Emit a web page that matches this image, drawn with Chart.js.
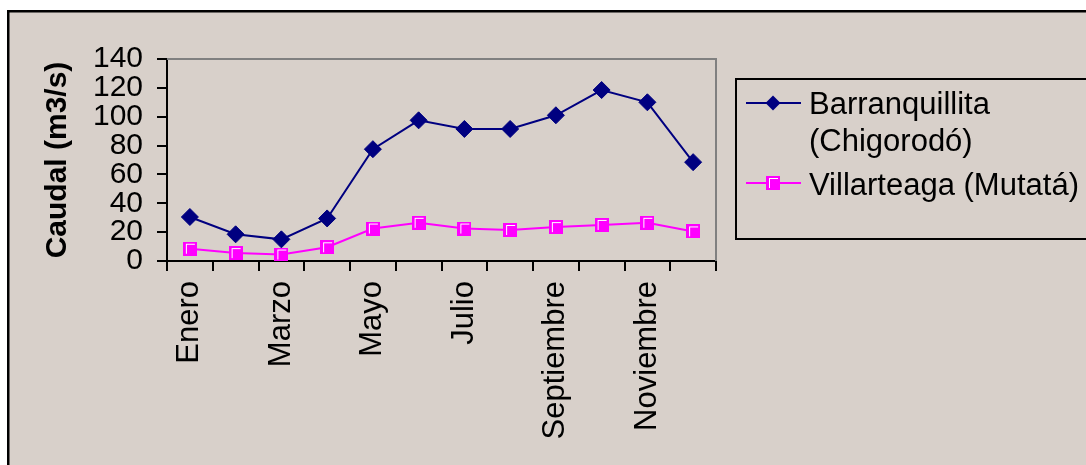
<!DOCTYPE html>
<html lang="es">
<head>
<meta charset="UTF-8">
<title>Caudal</title>
<script src="https://cdn.jsdelivr.net/npm/chart.js"></script>
<style>
  html, body { margin: 0; padding: 0; background: #fff; }
  canvas { display: block; }
</style>
</head>
<body>
<canvas id="caudalChart" width="1086" height="465"></canvas>
<script>
// datos
const meses = ['Enero', 'Febrero', 'Marzo', 'Abril', 'Mayo', 'Junio', 'Julio',
    'Agosto', 'Septiembre', 'Octubre', 'Noviembre', 'Diciembre'];
const barranquillita = [30.5, 18.5, 15, 29.5, 77.5, 97.5, 91.5, 91.5, 101, 118.5, 110, 68.5];
const villarteaga = [8.5, 5.5, 4.5, 9.5, 22.5, 26.5, 22.5, 21.5, 23.5, 25, 26.5, 20.5];
const nombres = [['Barranquillita', '(Chigorodó)'], ['Villarteaga (Mutatá)']];

const BG = '#d8d0ca';
const AZUL = '#000080';
const MAGENTA = '#ff00ff';
const FONT = "'Liberation Sans', Arial, sans-serif";

// marcador cuadrado estilo Excel
function squareMarker() {
    const c = document.createElement('canvas');
    c.width = 14; c.height = 14;
    const g = c.getContext('2d');
    g.fillStyle = MAGENTA;
    g.fillRect(0, 0, 14, 14);
    g.fillStyle = '#ffffff';
    g.fillRect(3, 2, 1, 10);
    g.fillRect(3, 2, 9, 1);
    return c;
}
const cuadro = squareMarker();

const fondo = {
    id: 'fondo',
    beforeDraw(chart) {
        const ctx = chart.ctx;
        ctx.save();
        ctx.fillStyle = '#ffffff';
        ctx.fillRect(0, 0, chart.width, chart.height);
        ctx.fillStyle = BG;
        ctx.fillRect(8, 11, chart.width, chart.height);
        ctx.fillStyle = '#000';
        ctx.fillRect(7, 10, chart.width, 2.5);
        ctx.fillRect(7, 10, 2.5, chart.height);
        ctx.restore();
    },
    beforeDatasetsDraw(chart) {
        const {ctx, chartArea: a} = chart;
        ctx.save();
        ctx.strokeStyle = '#808080';
        ctx.lineWidth = 2;
        ctx.beginPath();
        ctx.moveTo(a.left, a.top);
        ctx.lineTo(a.right, a.top);
        ctx.lineTo(a.right, a.bottom);
        ctx.stroke();
        ctx.restore();
    }
};

const leyenda = {
    id: 'leyenda',
    afterDraw(chart) {
        const ctx = chart.ctx;
        ctx.save();
        ctx.strokeStyle = '#000';
        ctx.lineWidth = 2;
        ctx.strokeRect(736, 79, 400, 160);

        ctx.font = '31px ' + FONT;
        ctx.fillStyle = '#000';
        ctx.textBaseline = 'alphabetic';
        const filas = [{y: 103, base: [114, 151]}, {y: 183, base: [195]}];
        chart.data.datasets.forEach((ds, i) => {
            const f = filas[i];
            ctx.strokeStyle = ds.borderColor;
            ctx.lineWidth = 2;
            ctx.beginPath();
            ctx.moveTo(746, f.y);
            ctx.lineTo(801, f.y);
            ctx.stroke();
            if (i === 0) {
                ctx.fillStyle = AZUL;
                ctx.beginPath();
                ctx.moveTo(773 - 7.5, f.y);
                ctx.lineTo(773, f.y - 7.5);
                ctx.lineTo(773 + 7.5, f.y);
                ctx.lineTo(773, f.y + 7.5);
                ctx.closePath();
                ctx.fill();
            } else {
                ctx.drawImage(cuadro, 773 - 7, f.y - 7);
            }
            ctx.fillStyle = '#000';
            nombres[i].forEach((t, k) => ctx.fillText(t, 809, f.base[k]));
        });
        ctx.restore();
    }
};

new Chart(document.getElementById('caudalChart'), {
    type: 'line',
    data: {
        labels: meses,
        datasets: [{
            label: nombres[0].join(' '),
            data: barranquillita,
            borderColor: AZUL,
            backgroundColor: AZUL,
            borderWidth: 2,
            pointStyle: 'rectRot',
            pointRadius: 8.5,
            pointBorderWidth: 1,
            tension: 0
        }, {
            label: nombres[1].join(' '),
            data: villarteaga,
            borderColor: MAGENTA,
            backgroundColor: MAGENTA,
            borderWidth: 2,
            pointStyle: cuadro,
            pointRadius: 7,
            tension: 0
        }]
    },
    options: {
        responsive: false,
        animation: false,
        layout: { padding: { left: 0, top: 59, right: 370, bottom: 0 } },
        plugins: { legend: { display: false }, tooltip: { enabled: false } },
        scales: {
            x: {
                offset: true,
                grid: { offset: true, drawOnChartArea: false, color: '#000', lineWidth: 2, tickLength: 10 },
                border: { color: '#000', width: 2 },
                ticks: {
                    autoSkip: false,
                    minRotation: 90,
                    maxRotation: 90,
                    padding: 10,
                    color: '#000',
                    font: { family: FONT, size: 31 },
                    callback: (v, i) => i % 2 === 0 ? meses[i] : ''
                },
                afterFit: s => { s.height = 204; }
            },
            y: {
                min: 0,
                max: 140,
                grid: { drawOnChartArea: false, color: '#000', lineWidth: 2, tickLength: 10 },
                border: { color: '#000', width: 2 },
                ticks: {
                    stepSize: 20,
                    autoSkip: false,
                    padding: 14,
                    color: '#000',
                    font: { family: FONT, size: 30, lineHeight: 1 }
                },
                title: {
                    display: true,
                    text: 'Caudal (m3/s)',
                    color: '#000',
                    padding: { top: 43, bottom: 0 },
                    font: { family: FONT, size: 30, weight: 'bold', lineHeight: 1 }
                },
                afterFit: s => { s.width = 167; }
            }
        }
    },
    plugins: [fondo, leyenda]
});
</script>
</body>
</html>
